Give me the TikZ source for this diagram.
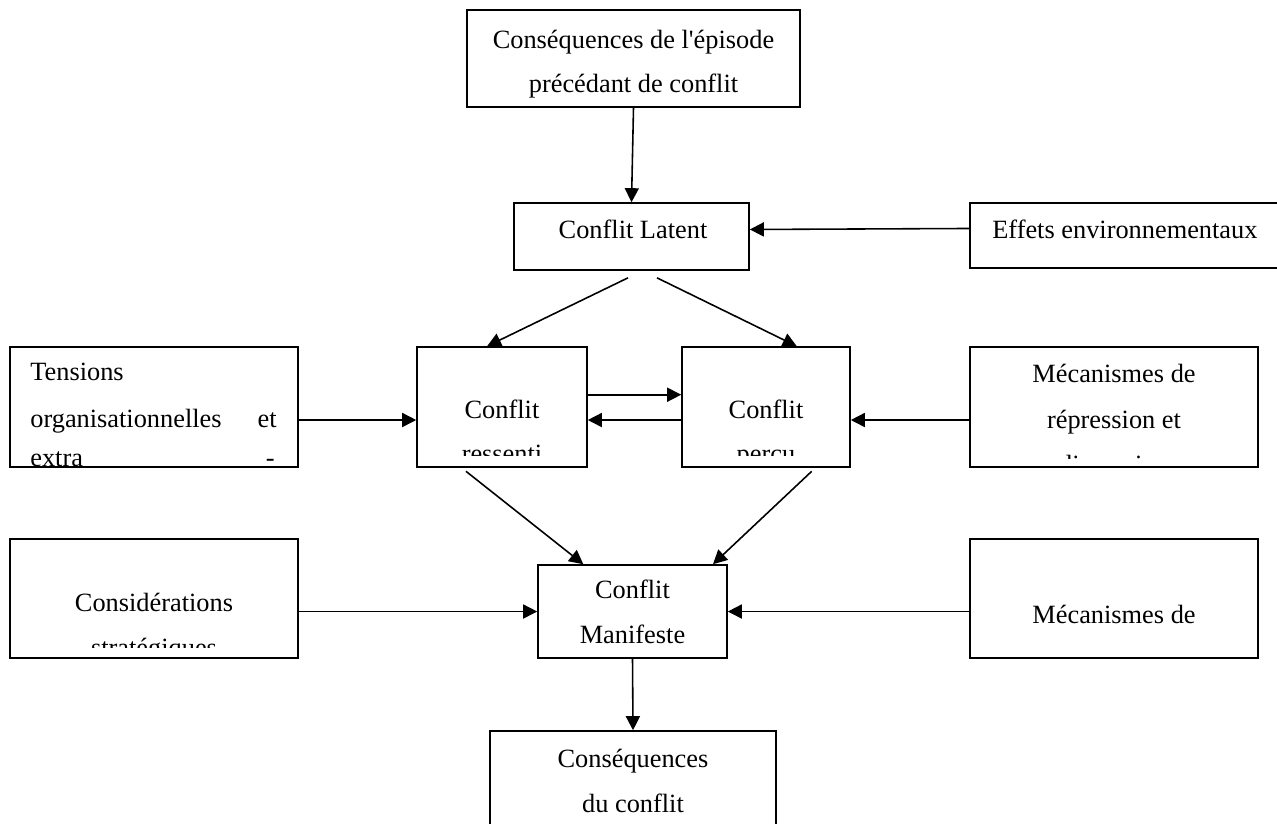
\documentclass[tikz,border=0pt]{standalone}
\usepackage{fontspec}
\setmainfont{Liberation Serif}
\usetikzlibrary{arrows.meta,fit}

\begin{document}
\begin{tikzpicture}[x=0.02cm,y=-0.02cm,
    boite/.style={draw,line width=0.9pt,inner sep=0pt},
    fleche/.style={-{Triangle[length=8pt,width=8pt]},line width=0.9pt},
    texte/.style={font=\fontsize{15}{25}\selectfont,anchor=base,inner sep=0pt}]
    \useasboundingbox (0,0) rectangle (1277,823);
    \clip (0,0) rectangle (1277,823);

    % boites
    \node [boite,fit={(467,10) (800,107)}] (episode) {};
    \node [boite,fit={(514,203) (749,270)}] (latent) {};
    \node [boite,fit={(970,203) (1300,268)}] (effets) {};
    \node [boite,fit={(10,347) (298,467)}] (tensions) {};
    \node [boite,fit={(417,347) (587,467)}] (ressenti) {};
    \node [boite,fit={(682,347) (850,467)}] (percu) {};
    \node [boite,fit={(970,347) (1258,467)}] (repression) {};
    \node [boite,fit={(10,539) (298,658)}] (strategie) {};
    \node [boite,fit={(538,565) (727,658)}] (manifeste) {};
    \node [boite,fit={(970,539) (1258,658)}] (resolution) {};
    \node [boite,fit={(490,731) (776,860)}] (consequences) {};

    % textes
    \node [texte] (t-episode1) at (633.5,48) {Conséquences de l\textquotesingle épisode};
    \node [texte] (t-episode2) at (633.5,92) {précédant de conflit};
    \node [texte] (t-latent) at (633,238) {Conflit Latent};
    \node [texte,anchor=base west] (t-effets) at (992,238) {Effets environnementaux};
    \node [texte] (t-manifeste1) at (632.5,598) {Conflit};
    \node [texte] (t-manifeste2) at (632.5,643) {Manifeste};
    \node [texte] (t-consequences1) at (633,767) {Conséquences};
    \node [texte] (t-consequences2) at (633,812) {du conflit};
    \begin{scope}
        \clip (10,347) rectangle (298,467);
        \node [texte,anchor=base west] (t-tensions1) at (30,380) {Tensions};
        \node [texte,anchor=base west] (t-tensions2) at (30,427) {organisationnelles};
        \node [texte,anchor=base east] (t-tensions3) at (277,427) {et};
        \node [texte,anchor=base west] (t-tensions4) at (30,466) {extra};
        \node [texte,anchor=base east] (t-tensions5) at (275,466) {-};
    \end{scope}
    \begin{scope}
        \clip (417,347) rectangle (587,455);
        \node [texte] (t-ressenti1) at (502,418) {Conflit};
        \node [texte] (t-ressenti2) at (502,462) {ressenti};
    \end{scope}
    \begin{scope}
        \clip (682,347) rectangle (850,455);
        \node [texte] (t-percu1) at (766,418) {Conflit};
        \node [texte] (t-percu2) at (766,462) {perçu};
    \end{scope}
    \begin{scope}
        \clip (970,347) rectangle (1258,458);
        \node [texte] (t-repression1) at (1114,382) {Mécanismes de};
        \node [texte] (t-repression2) at (1114,428) {répression et};
        \node [texte] (t-repression3) at (1114,473) {dissuasion};
    \end{scope}
    \begin{scope}
        \clip (10,539) rectangle (298,647);
        \node [texte] (t-strategie1) at (154,611) {Considérations};
        \node [texte] (t-strategie2) at (154,656) {stratégiques};
    \end{scope}
    \begin{scope}
        \clip (970,539) rectangle (1258,647);
        \node [texte] (t-resolution1) at (1114,623) {Mécanismes de};
        \node [texte] (t-resolution2) at (1114,668) {résolution des conflits};
    \end{scope}

    % fleches
    \draw [fleche] (episode.south) -- (latent.north);
    \draw [fleche] ([yshift=4pt]effets.west) -- ([yshift=4pt]latent.east);
    \draw [fleche] ([xshift=-2pt,yshift=-4pt]latent.south) -- ([xshift=-8.5pt]ressenti.north);
    \draw [fleche] ([xshift=14.5pt,yshift=-4pt]latent.south) -- ([xshift=17.5pt]percu.north);
    \draw [fleche] ([yshift=7pt]ressenti.east) -- ([yshift=7pt]percu.west);
    \draw [fleche] ([yshift=-7.4pt]percu.west) -- ([yshift=-7.4pt]ressenti.east);
    \draw [fleche] ([yshift=-7.4pt]tensions.east) -- ([yshift=-7.4pt]ressenti.west);
    \draw [fleche] ([yshift=-7.4pt]repression.west) -- ([yshift=-7.4pt]percu.east);
    \draw [fleche] ([xshift=-20.5pt,yshift=-2pt]ressenti.south) -- ([xshift=-28pt]manifeste.north);
    \draw [fleche] ([xshift=26pt,yshift=-2pt]percu.south) -- ([xshift=45.8pt]manifeste.north);
    \draw [fleche] (strategie.east |- manifeste.west) -- (manifeste.west);
    \draw [fleche] (resolution.west |- manifeste.east) -- (manifeste.east);
    \draw [fleche] (manifeste.south) -- (consequences.north);
\end{tikzpicture}
\end{document}
